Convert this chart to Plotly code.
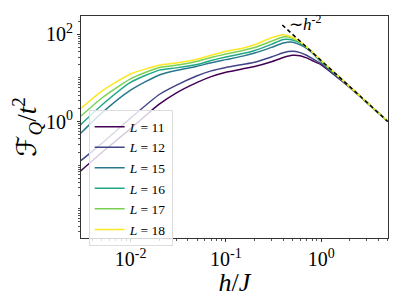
import plotly.graph_objects as go

h = [0.003, 0.005, 0.01, 0.02, 0.03, 0.05, 0.07, 0.1, 0.15, 0.2, 0.3, 0.4,
     0.5, 0.6, 0.7, 0.8, 1.0, 1.5, 2.0, 3.0, 5.0]

labels = ["11", "12", "15", "16", "17", "18"]
colors = ["#440154", "#414487", "#2a788e", "#22a884", "#7ad151", "#fde725"]

F_L11 = [0.074, 0.195, 0.69, 2.5, 4.5, 7.9, 10.7, 13.5, 16.2, 18.2, 23.4, 29.5,
         33.1, 32.4, 28.8, 25.1, 20.0, 10.0, 6.0, 2.75, 1.0]
F_L12 = [0.126, 0.316, 1.2, 4.17, 6.76, 11.2, 14.5, 17.4, 20.4, 22.9, 30.2, 38.0,
         40.7, 38.0, 33.1, 28.2, 20.9, 10.2, 6.2, 2.75, 1.0]
F_L15 = [0.54, 1.58, 5.25, 11.7, 14.8, 18.6, 22.4, 26.3, 31.6, 37.2, 50.1, 63.1,
         66.1, 57.5, 47.9, 38.0, 22.9, 10.7, 6.2, 2.75, 1.0]
F_L16 = [0.85, 2.4, 7.9, 15.1, 17.0, 20.4, 25.1, 30.2, 36.3, 42.7, 58.9, 75.9,
         74.1, 63.1, 50.1, 39.8, 24.0, 11.0, 6.24, 2.78, 1.0]
F_L17 = [1.32, 3.47, 9.55, 17.4, 19.5, 24.0, 29.5, 35.5, 42.7, 50.1, 69.2, 87.1,
         81.3, 66.1, 51.3, 39.8, 24.5, 11.1, 6.25, 2.78, 1.0]
F_L18 = [2.0, 5.0, 12.3, 19.5, 21.9, 26.9, 33.1, 40.7, 47.9, 57.5, 83.2, 97.7,
         85.1, 67.6, 51.3, 39.8, 25.1, 11.1, 6.25, 2.78, 1.0]
series = [F_L11, F_L12, F_L15, F_L16, F_L17, F_L18]

# ~h^-2 guide line
guide_h = [0.39, 5.0]
guide_F = [164.0, 1.0]

serif = "Liberation Serif"

fig = go.Figure()
for lab, col, ys in zip(labels, colors, series):
    fig.add_trace(go.Scatter(
        x=h, y=ys, mode="lines", name=f"<i>L</i> = {lab}",
        line=dict(color=col, width=1.5, shape="spline", smoothing=0.6),
    ))
fig.add_trace(go.Scatter(
    x=guide_h, y=guide_F, mode="lines", showlegend=False,
    line=dict(color="black", width=1.5, dash="4px,3px"),
))

fig.add_annotation(
    x=-0.36, y=2.27, xref="x", yref="y", xanchor="left", yanchor="middle",
    text="∼<i>h</i><sup>-2</sup>", showarrow=False,
    font=dict(family=serif, size=17, color="black"),
)

axis_common = dict(
    type="log", showline=True, linecolor="#333", linewidth=1, mirror=True,
    showgrid=False, zeroline=False, ticks="outside", ticklen=3, tickwidth=0.8,
    tickcolor="#333",
    tickfont=dict(family=serif, size=20, color="black"),
    minor=dict(ticks="outside", ticklen=2, tickwidth=0.6, tickcolor="#555",
               dtick="D1", showgrid=False),
)

# page body has an 8px default margin; size and margins compensate for it
fig.update_layout(
    width=391, height=289,
    margin=dict(l=73, r=11, t=7, b=53),
    paper_bgcolor="white", plot_bgcolor="white",
    xaxis=dict(**axis_common, range=[-2.52, 0.70],
               tickvals=[0.01, 0.1, 1],
               ticktext=["10<sup>-2</sup>", "10<sup>-1</sup>", "10<sup>0</sup>"],
               title=dict(text="<i>h</i>/<i>J</i>", standoff=2,
                          font=dict(family=serif, size=26, color="black"))),
    yaxis=dict(**axis_common, range=[-2.67, 2.42],
               tickvals=[1, 100], ticktext=["10<sup>0</sup>", "10<sup>2</sup>"],
               title=dict(text="<span style=\"font-family:'DejaVu Sans'\">ℱ</span><sub><i>Q</i></sub>/<i>t</i><sup>2</sup>",
                          standoff=2,
                          font=dict(family=serif, size=27, color="black"))),
    legend=dict(x=0.025, y=0.575, xanchor="left", yanchor="top",
                bgcolor="rgba(255,255,255,0.8)", bordercolor="#ddd", borderwidth=1,
                font=dict(family=serif, size=13.5, color="black"),
                tracegroupgap=0, itemwidth=30),
    showlegend=True,
)

fig.write_html("out.html")
